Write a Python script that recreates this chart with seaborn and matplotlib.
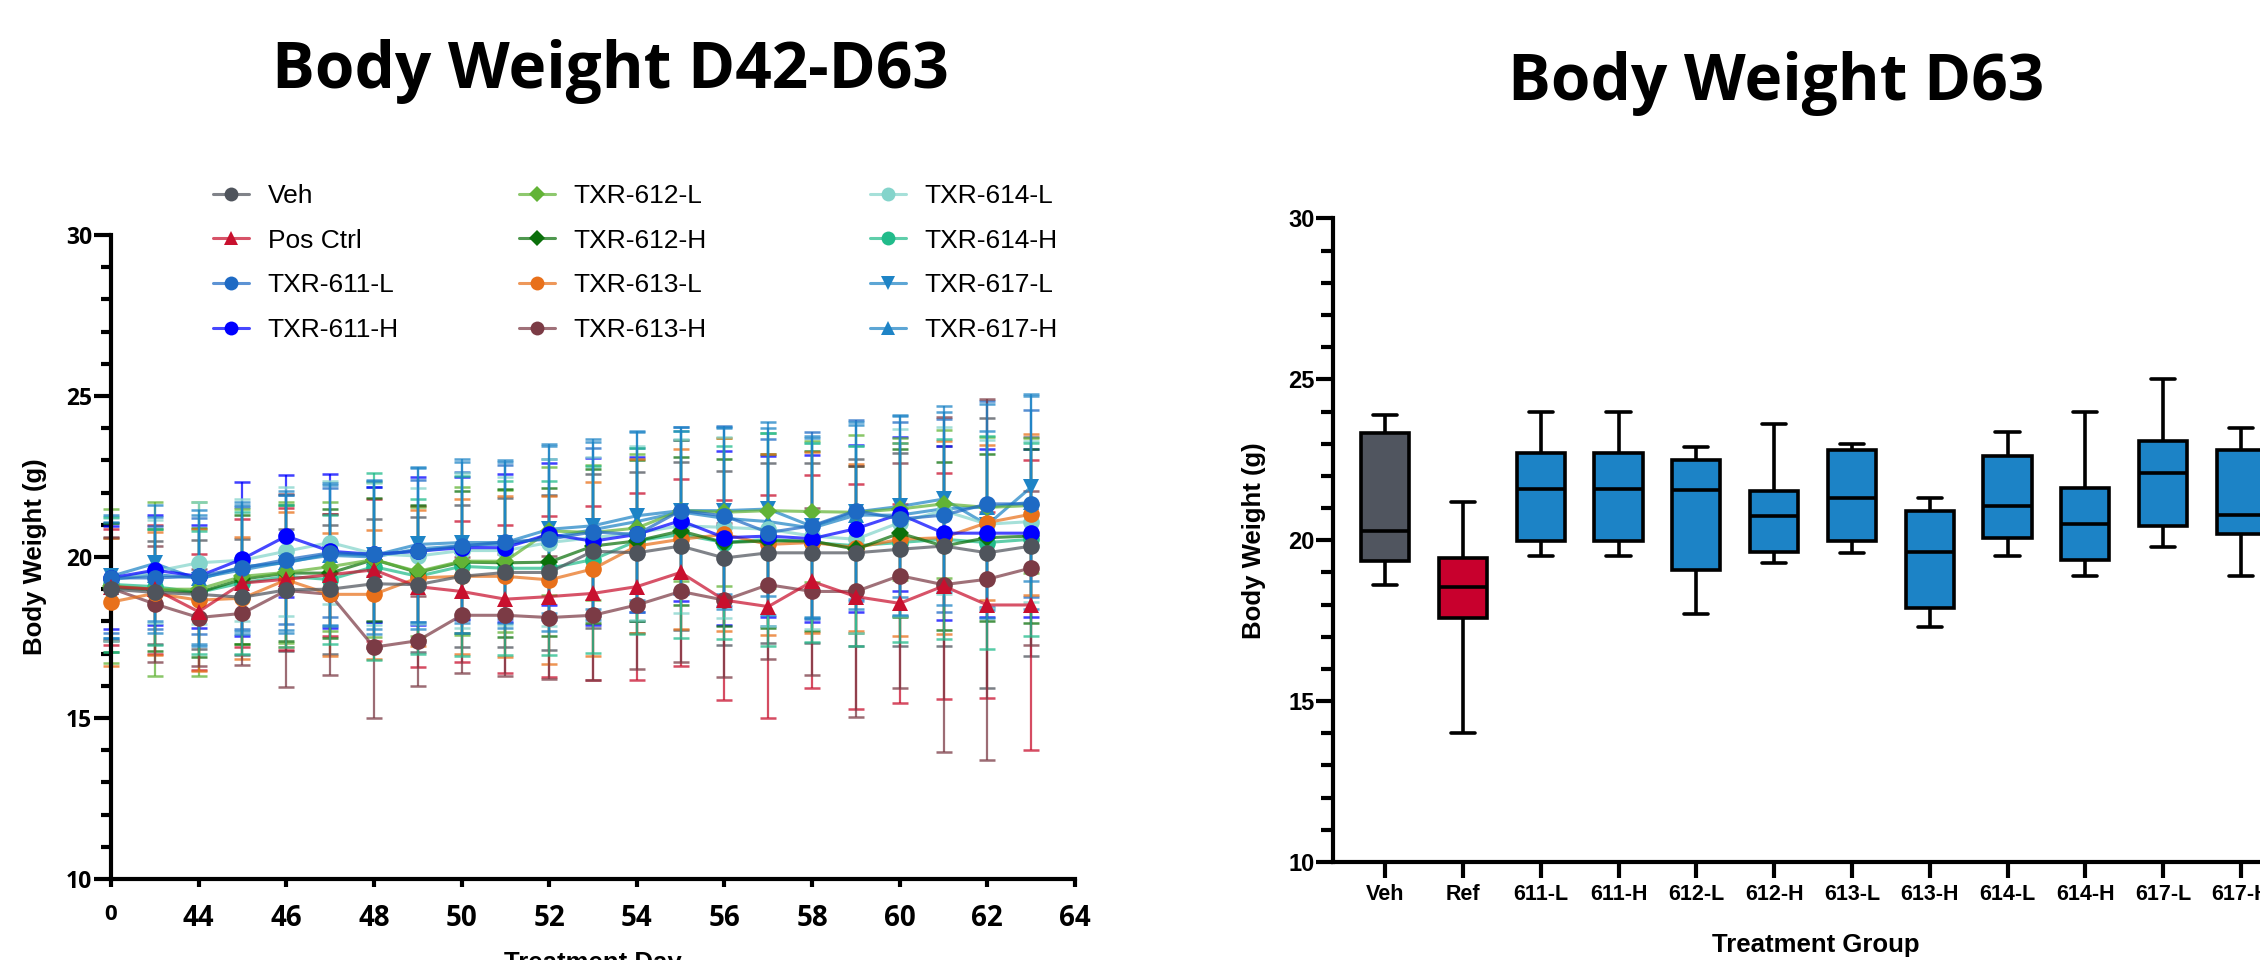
import numpy as np
import pandas as pd
import seaborn as sns
import matplotlib.pyplot as plt
from matplotlib.lines import Line2D
from matplotlib.ticker import MultipleLocator
from matplotlib.colors import to_rgba

# ---- left panel: group mean body weight (g) and SD, days 42-63 ----
days = list(range(42, 64))

groups = ["Veh", "Pos Ctrl", "TXR-611-L", "TXR-611-H", "TXR-612-L", "TXR-612-H",
          "TXR-613-L", "TXR-613-H", "TXR-614-L", "TXR-614-H", "TXR-617-L", "TXR-617-H"]
group_colors = ["#4F545C", "#C8102E", "#1E6AC4", "#0000FF", "#62B336", "#0B700B",
                "#E8701A", "#7B3B45", "#84D4CB", "#21BB8A", "#1E84C6", "#1E84C6"]
group_markers = ["o", "^", "o", "o", "D", "D", "o", "o", "o", "o", "v", "^"]

veh_mean = [19.0, 18.9, 18.84, 18.75, 18.98, 19.0, 19.17, 19.14, 19.4, 19.52, 19.52,
            20.18, 20.13, 20.34, 19.97, 20.13, 20.13, 20.13, 20.24, 20.34, 20.13, 20.34]
veh_sd = [1.6, 1.6, 1.7, 1.8, 1.9, 2.0, 2.0, 2.1, 2.2, 2.3, 2.4,
          2.4, 2.5, 2.6, 2.7, 2.8, 2.8, 2.9, 3.0, 3.1, 4.2, 3.4]
pos_mean = [19.08, 19.0, 18.3, 19.19, 19.31, 19.45, 19.6, 19.08, 18.93, 18.69, 18.77,
            18.87, 19.08, 19.52, 18.66, 18.46, 19.24, 18.77, 18.56, 19.1, 18.51, 18.51]
pos_sd = [1.8, 2.0, 1.8, 2.0, 2.2, 1.9, 2.2, 2.5, 2.2, 2.3, 2.5,
          2.7, 2.9, 2.9, 3.1, 3.45, 3.3, 3.5, 3.1, 3.5, 2.9, 4.5]
t611l_mean = [19.35, 19.35, 19.4, 19.66, 19.92, 20.13, 20.08, 20.18, 20.34, 20.47, 20.55,
              20.78, 20.7, 21.44, 21.28, 20.76, 20.97, 21.44, 21.18, 21.3, 21.65, 21.65]
t611l_sd = [1.7, 1.6, 1.8, 1.9, 2.0, 2.0, 2.1, 2.2, 2.3, 2.4, 2.5,
            2.6, 2.7, 2.6, 2.8, 2.9, 2.9, 2.8, 3.0, 3.0, 3.2, 2.9]
t611h_mean = [19.35, 19.59, 19.4, 19.94, 20.65, 20.18, 20.08, 20.18, 20.29, 20.29, 20.71,
              20.49, 20.7, 21.13, 20.6, 20.65, 20.57, 20.88, 21.33, 20.74, 20.74, 20.74]
t611h_sd = [1.6, 1.7, 1.6, 2.4, 1.9, 2.4, 2.1, 2.3, 2.2, 2.3, 2.2,
            2.6, 2.4, 2.5, 2.7, 2.5, 2.6, 2.6, 2.4, 2.7, 2.6, 2.6]
t612l_mean = [19.1, 19.0, 19.0, 19.4, 19.52, 19.7, 19.92, 19.55, 19.87, 19.87, 20.81,
              20.76, 20.9, 21.44, 21.39, 21.44, 21.41, 21.39, 21.49, 21.65, 21.54, 21.6]
t612l_sd = [2.4, 2.7, 2.7, 2.1, 2.2, 2.0, 2.4, 2.0, 2.3, 2.2, 2.0,
            2.1, 2.3, 2.2, 2.3, 2.4, 2.2, 2.4, 2.2, 2.3, 2.2, 2.1]
t612h_mean = [19.05, 18.98, 18.9, 19.31, 19.5, 19.5, 19.92, 19.52, 19.84, 19.82, 19.84,
              20.34, 20.5, 20.81, 20.45, 20.5, 20.5, 20.24, 20.74, 20.34, 20.6, 20.65]
t612h_sd = [2.0, 1.9, 2.0, 2.0, 2.1, 2.0, 1.9, 2.1, 2.2, 2.3, 2.3,
            2.4, 2.5, 2.3, 2.6, 2.7, 2.8, 2.6, 2.6, 2.6, 2.6, 2.7]
t613l_mean = [18.6, 18.87, 18.66, 18.72, 19.29, 18.84, 18.84, 19.35, 19.4, 19.4, 19.29,
              19.63, 20.34, 20.55, 20.7, 20.39, 20.45, 20.29, 20.55, 20.6, 21.07, 21.33]
t613l_sd = [2.0, 1.9, 2.2, 1.9, 2.1, 1.9, 2.0, 2.1, 2.4, 2.5, 2.6,
            2.7, 2.7, 2.8, 3.0, 2.8, 2.8, 2.6, 3.0, 3.0, 2.4, 2.5]
t613h_mean = [19.03, 18.54, 18.12, 18.25, 18.96, 18.84, 17.2, 17.4, 18.19, 18.19, 18.12,
              18.19, 18.51, 18.93, 18.66, 19.14, 18.93, 18.93, 19.42, 19.14, 19.31, 19.66]
t613h_sd = [1.6, 1.8, 1.5, 1.6, 3.0, 2.5, 2.2, 1.4, 1.8, 1.9, 1.9,
            2.0, 2.0, 2.2, 2.4, 2.3, 2.6, 3.9, 3.5, 5.2, 5.6, 2.4]
t614l_mean = [19.3, 19.55, 19.82, 19.9, 20.18, 20.45, 20.1, 20.03, 20.2, 20.2, 20.45,
              20.6, 20.75, 20.97, 20.92, 20.86, 20.65, 20.55, 21.07, 21.44, 21.02, 21.1]
t614l_sd = [1.9, 1.6, 1.9, 1.9, 2.0, 1.9, 2.2, 2.1, 2.4, 2.3, 2.6,
            2.5, 2.7, 2.7, 2.8, 3.0, 2.9, 2.9, 2.9, 2.6, 2.6, 2.5]
t614h_mean = [19.15, 19.08, 18.9, 19.2, 19.4, 19.3, 19.7, 19.4, 19.71, 19.65, 19.65,
              19.92, 20.5, 20.7, 20.45, 20.55, 20.45, 20.35, 20.45, 20.55, 20.45, 20.55]
t614h_sd = [2.1, 1.8, 1.9, 2.2, 2.2, 2.0, 2.9, 2.4, 2.8, 2.7, 2.7,
            2.9, 2.9, 3.2, 3.0, 3.3, 3.1, 3.1, 3.1, 3.1, 3.3, 3.0]
t617l_mean = [19.4, 19.8, 19.3, 19.7, 19.82, 20.1, 20.05, 20.39, 20.45, 20.45, 20.86,
              20.97, 21.28, 21.44, 21.44, 21.49, 20.95, 21.4, 21.57, 21.8, 21.0, 22.17]
t617l_sd = [1.9, 1.8, 2.0, 2.0, 2.1, 2.2, 2.3, 2.4, 2.5, 2.5, 2.6,
            2.6, 2.6, 2.6, 2.6, 2.7, 2.8, 2.7, 2.8, 2.9, 2.9, 2.9]
t617h_mean = [19.3, 19.45, 19.35, 19.6, 19.85, 20.05, 20.0, 20.25, 20.35, 20.4, 20.6,
              20.85, 21.1, 21.4, 21.2, 21.1, 20.9, 21.3, 21.3, 21.5, 21.55, 21.7]
t617h_sd = [1.8, 1.8, 2.1, 2.0, 2.2, 2.2, 2.4, 2.5, 2.7, 2.6, 2.9,
            2.8, 2.8, 2.5, 2.8, 2.9, 2.8, 2.9, 3.1, 3.0, 3.2, 3.3]

all_means = [veh_mean, pos_mean, t611l_mean, t611h_mean, t612l_mean, t612h_mean,
             t613l_mean, t613h_mean, t614l_mean, t614h_mean, t617l_mean, t617h_mean]
all_sds = [veh_sd, pos_sd, t611l_sd, t611h_sd, t612l_sd, t612h_sd,
           t613l_sd, t613h_sd, t614l_sd, t614h_sd, t617l_sd, t617h_sd]

# ---- right panel: D63 box summary (min, Q1, median, Q3, max) ----
box_groups = ["Veh", "Ref", "611-L", "611-H", "612-L", "612-H",
              "613-L", "613-H", "614-L", "614-H", "617-L", "617-H"]
box_min = [18.6, 14.0, 19.5, 19.5, 17.7, 19.3, 19.6, 17.3, 19.5, 18.9, 19.8, 18.9]
box_q1 = [19.35, 17.57, 19.98, 19.98, 19.08, 19.62, 19.98, 17.89, 20.08, 19.39, 20.44, 20.2]
box_med = [20.3, 18.56, 21.6, 21.6, 21.55, 20.75, 21.3, 19.65, 21.05, 20.5, 22.1, 20.8]
box_q3 = [23.34, 19.46, 22.72, 22.72, 22.49, 21.53, 22.79, 20.91, 22.63, 21.63, 23.08, 22.82]
box_max = [23.88, 21.2, 24.0, 24.0, 22.89, 23.6, 23.0, 21.3, 23.37, 24.0, 25.0, 23.49]
box_colors = ["#50555F", "#C8002D"] + ["#1C83C6"] * 10

# ---- build tables ----
rows = []
for g, m in zip(groups, all_means):
    for d, v in zip(days, m):
        rows.append((g, d, v))
line_df = pd.DataFrame(rows, columns=["group", "day", "weight"])

box_rows = []
for i, g in enumerate(box_groups):
    for v in (box_min[i], box_q1[i], box_med[i], box_q3[i], box_max[i]):
        box_rows.append((g, v))
box_df = pd.DataFrame(box_rows, columns=["group", "weight"])

sns.set_style("ticks")
plt.rcParams["font.family"] = ["Liberation Sans", "DejaVu Sans"]
for key in ("text.color", "axes.labelcolor", "xtick.color", "ytick.color", "axes.edgecolor"):
    plt.rcParams[key] = "black"

W, H = 2260, 960
fig = plt.figure(figsize=(W / 100, H / 100), dpi=100)

title_font = dict(family="Open Sans", weight="bold", size=46, color="black")
fig.text(610 / W, 1 - 72 / H, "Body Weight D42-D63", ha="center", va="center", **title_font)
fig.text(1776 / W, 1 - 83 / H, "Body Weight D63", ha="center", va="center", **title_font)

# ================= left: line plot with SD bars =================
ax1 = fig.add_axes([111 / W, 1 - 879 / H, 964 / W, 644 / H])
pal = dict(zip(groups, group_colors))
sns.lineplot(data=line_df, x="day", y="weight", hue="group", style="group",
             hue_order=groups, style_order=groups, palette=pal,
             markers=dict(zip(groups, group_markers)), dashes=False,
             errorbar=None, linewidth=2.2, markersize=12, markeredgewidth=0,
             legend=False, ax=ax1)

n = len(groups)
for i, line in enumerate(ax1.lines[:n]):
    c = group_colors[i]
    line.set_markerfacecolor(c)
    line.set_markeredgecolor(c)
    line.set_color(to_rgba(c, 0.72))
    if group_markers[i] == "D":
        line.set_markersize(9)
    line.set_zorder(4 + (n - i) * 0.1)
    line.set_clip_on(False)

for i, g in enumerate(groups):
    eb = ax1.errorbar(days, all_means[i], yerr=all_sds[i], fmt="none",
                      ecolor=to_rgba(group_colors[i], 0.75), elinewidth=1.6,
                      capsize=6, capthick=1.8, zorder=2)
    for art in eb.lines[1] + eb.lines[2]:
        art.set_clip_on(False)

ax1.set_xlim(42, 64)
ax1.set_ylim(10, 30)
ax1.set_xticks(range(42, 65, 2))
ax1.set_xticklabels(["0"] + [str(d) for d in range(44, 65, 2)])
ax1.set_yticks(range(10, 31, 5))
ax1.yaxis.set_minor_locator(MultipleLocator(1))
for lab in ax1.get_xticklabels():
    lab.set_fontfamily("Open Sans")
    lab.set_fontweight("bold")
    lab.set_fontsize(20)
ax1.get_xticklabels()[0].set_fontsize(16)
for lab in ax1.get_yticklabels():
    lab.set_fontfamily("Open Sans")
    lab.set_fontweight("bold")
    lab.set_fontsize(16.5)
ax1.tick_params(axis="y", which="major", length=12, width=3, pad=1.5)
ax1.tick_params(axis="y", which="minor", length=7.5, width=3)
ax1.tick_params(axis="x", which="major", length=6, width=3, pad=12)
ax1.set_xlabel("Treatment Day", fontsize=18.5, fontweight="bold")
ax1.set_ylabel("Body Weight (g)", fontsize=18.5, fontweight="bold")
ax1.yaxis.label.set_va("center")
ax1.xaxis.label.set_va("center")
ax1.yaxis.set_label_coords(-0.079, 0.5)
ax1.xaxis.set_label_coords(0.5, -0.131)

# legend: three columns of four
handles = [Line2D([], [], color=to_rgba(c, 0.72), lw=2.2, marker=m,
                  markersize=(8 if m == "D" else 10), markerfacecolor=c,
                  markeredgecolor=c, markeredgewidth=0)
           for c, m in zip(group_colors, group_markers)]
col_x = [213, 519, 870]
for k in range(3):
    fig.legend(handles=handles[4 * k:4 * k + 4], labels=groups[4 * k:4 * k + 4],
               loc="center left", bbox_to_anchor=(col_x[k] / W, 1 - 263 / H),
               frameon=False, prop=dict(family="Liberation Sans", size=19),
               handlelength=1.35, handletextpad=0.72, labelspacing=0.78,
               borderpad=0, borderaxespad=0)

# ================= right: D63 box plot =================
ax2 = fig.add_axes([1333 / W, 1 - 862 / H, 955 / W, 643.5 / H])
sns.boxplot(data=box_df, x="group", y="weight", hue="group", order=box_groups,
            hue_order=box_groups, palette=dict(zip(box_groups, box_colors)),
            saturation=1, width=0.62, whis=(0, 100), linecolor="black",
            linewidth=2.6, legend=False, ax=ax2)
ax2.set_xlim(-0.67, -0.67 + 955 / 77.8)
ax2.set_ylim(10, 30)
ax2.set_yticks(range(10, 31, 5))
ax2.yaxis.set_minor_locator(MultipleLocator(1))
ax2.tick_params(axis="y", which="major", length=12, width=3, pad=1, labelsize=17)
ax2.tick_params(axis="y", which="minor", length=8.5, width=3)
ax2.tick_params(axis="x", which="major", length=11.5, width=3, pad=4, labelsize=15.5)
for lab in ax2.get_xticklabels() + ax2.get_yticklabels():
    lab.set_fontweight("bold")
ax2.set_xlabel("Treatment Group", fontsize=18.5, fontweight="bold")
ax2.set_ylabel("Body Weight (g)", fontsize=18.5, fontweight="bold")
ax2.yaxis.label.set_va("center")
ax2.xaxis.label.set_va("center")
ax2.yaxis.set_label_coords(-0.083, 0.5)
ax2.xaxis.set_label_coords(0.506, -0.129)

for ax in (ax1, ax2):
    sns.despine(ax=ax)
    for s in ("left", "bottom"):
        ax.spines[s].set_linewidth(3)
        ax.spines[s].set_color("black")
    ax.set_facecolor("white")

fig.savefig("out.png", dpi=100, facecolor="white")
